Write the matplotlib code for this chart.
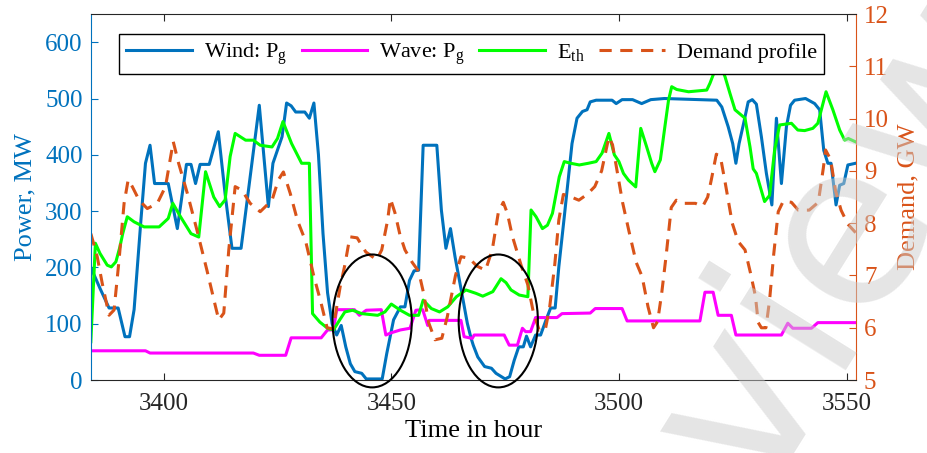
import matplotlib
matplotlib.use("Agg")
import matplotlib.pyplot as plt
from matplotlib.patches import Ellipse

plt.rcParams["font.family"] = ["Liberation Serif", "DejaVu Serif"]
plt.rcParams["mathtext.fontset"] = "custom"
plt.rcParams["mathtext.rm"] = "Liberation Serif"
plt.rcParams["mathtext.it"] = "Liberation Serif:italic"

# Wind: Pg (MW)
wind_h = [3384, 3386, 3388, 3390, 3391.5, 3392.5, 3393.5, 3395, 3396, 3397, 3398, 3401,
          3403, 3405, 3406, 3407, 3408, 3410, 3412, 3413.5, 3415, 3417, 3421, 3423, 3424,
          3426, 3427, 3428, 3429, 3431, 3432, 3433, 3434, 3435, 3436, 3437, 3438, 3439,
          3440, 3441, 3442, 3443.5, 3444.5, 3448, 3449, 3450.5, 3452, 3453, 3454, 3455,
          3456, 3457, 3460, 3461, 3462, 3463, 3464, 3465.5, 3466.7, 3467.5, 3468, 3469,
          3470.5, 3472, 3473, 3475, 3476, 3477, 3478, 3479, 3479.7, 3480.6, 3481.7, 3482.8,
          3484, 3485, 3486, 3486.8, 3488, 3489.7, 3490.8, 3492, 3493, 3493.7, 3495, 3498.5,
          3499.4, 3500.7, 3503, 3505, 3507, 3510, 3521.5, 3522.6, 3524, 3525, 3525.7,
          3526.4, 3527.4, 3528.4, 3529.3, 3530.2, 3531.3, 3532.4, 3533.6, 3534.6, 3535.7,
          3536.8, 3537.7, 3538.6, 3541, 3543, 3544.1, 3545, 3545.9, 3546.6, 3547.7, 3548.5,
          3549.4, 3550.3, 3552]
wind_p = [200, 163, 128, 128, 77, 77, 125, 284, 385, 417, 349, 349,
          269, 383, 383, 349, 383, 383, 441, 330, 234, 234, 488, 308, 385,
          432, 492, 487, 476, 476, 465, 492, 400, 260, 155, 100, 80, 97,
          59, 29, 15, 12, 2, 2, 47, 107, 130, 130, 177, 194,
          195, 417, 417, 302, 234, 269, 219, 154, 101, 75, 62, 41,
          24, 21, 12, 2, 6, 35, 59, 59, 78, 59, 80, 80,
          107, 128, 128, 201, 290, 420, 465, 477, 480, 494, 497, 497,
          491, 498, 498, 491, 498, 500, 497, 485, 450, 420, 385,
          420, 456, 494, 498, 490, 432, 367, 311, 465, 349,
          450, 488, 497, 500, 491, 480, 408, 385, 385, 311, 346,
          349, 382, 385]

# Wave: Pg (MW)
wave_h = [3384, 3396, 3397, 3419.7, 3421, 3426.8, 3428, 3434.6, 3436, 3437.3, 3438, 3441.9,
          3443, 3444.5, 3447.8, 3448.8, 3450, 3452, 3454.1, 3455.4, 3456.9, 3458, 3458.3,
          3465.3, 3466, 3467.8, 3468.2, 3474.8, 3475.9, 3477.7, 3478.8, 3479.5, 3480.6,
          3481.7, 3486.4, 3487.5, 3493.7, 3494.8, 3500.7, 3501.8, 3517.8, 3518.9, 3520.7,
          3521.8, 3524.7, 3525.7, 3535.7, 3537.1, 3538.2, 3542.3, 3543.7, 3552]
wave_p = [52, 52, 48, 48, 44, 44, 75, 75, 89, 89, 125, 125,
          115, 124, 125, 80, 84, 89, 92, 124, 125, 97, 106,
          106, 77, 74, 80, 80, 62, 62, 92, 86, 86,
          111, 111, 118, 119, 127, 127, 105, 105, 156, 156,
          115, 115, 80, 80, 101, 92, 92, 102, 102]

# E_th (MW)
eth_h = [3384, 3385, 3386, 3387.6, 3388.5, 3389.5, 3390.4, 3391, 3392, 3393.5, 3395.7, 3399,
         3401, 3402, 3403.7, 3406, 3407.7, 3409.2, 3411, 3412.3, 3413.5, 3414.6, 3415.7,
         3418, 3419.7, 3421.2, 3423.8, 3425, 3426.2, 3428.1, 3430.3, 3432, 3432.7, 3434.3,
         3436, 3437.3, 3438.6, 3439.8, 3441.5, 3443.5, 3447, 3448.6, 3450, 3452, 3454, 3456,
         3457, 3458.8, 3460.6, 3462.4, 3464.3, 3466.4, 3468.6, 3470.1, 3472.3, 3474.1,
         3475.2, 3476.3, 3478.1, 3480, 3480.7, 3481.8, 3483.2, 3484.3, 3485.4, 3486.9, 3488,
         3489.4, 3491.3, 3493.3, 3495, 3496.3, 3497.8, 3499, 3500, 3501, 3502.1, 3503.7,
         3504.8, 3506.1, 3507.2, 3507.9, 3509.1, 3509.6, 3510.1, 3510.9, 3511.6, 3512.7,
         3515.3, 3519.3, 3520, 3521, 3522, 3523.3, 3524.4, 3525.5, 3527.7, 3528.8, 3529.5,
         3530.2, 3532, 3533.1, 3534.2, 3535.3, 3537.9, 3539.3, 3540.8, 3542.6, 3543.7,
         3545.5, 3547, 3548.5, 3549.6, 3550.4, 3552]
eth_p = [68, 243, 225, 204, 201, 210, 237, 260, 290, 281, 272, 272,
         287, 314, 290, 260, 254, 370, 325, 308, 320, 397, 438,
         426, 426, 417, 414, 429, 459, 420, 385, 385, 118, 103,
         92, 89, 106, 121, 124, 118, 115, 121, 135, 124, 115, 115,
         142, 127, 121, 130, 148, 160, 154, 149, 157, 180,
         173, 160, 151, 148, 302, 290, 269, 275, 296, 361, 388,
         385, 382, 385, 388, 403, 438, 400, 388, 367, 355, 343,
         447, 414, 385, 370, 391, 420, 450, 497, 521, 516,
         512, 515, 527, 548, 565, 539, 509, 480, 465, 414, 375,
         367, 317, 328, 408, 453, 456, 444, 443, 447, 456,
         512, 480, 444, 426, 429, 423]

# Demand profile (GW)
dem_h = [3384, 3385.4, 3386.5, 3388, 3389.1, 3390.2, 3391.3, 3392.2, 3393.1, 3394.6, 3396.4,
         3398.6, 3400.4, 3402.1, 3403.3, 3405.2, 3407.3, 3409.5, 3411.4, 3412.1, 3413.2,
         3414.3, 3415.7, 3417.2, 3419, 3421.2, 3423.8, 3425.2, 3426.3, 3427.8, 3429.4,
         3431.2, 3433, 3434.5, 3435.9, 3437.2, 3438.8, 3439.8, 3440.9, 3442.5, 3444.4,
         3446.8, 3447.9, 3449.2, 3449.8, 3450.8, 3451.9, 3453, 3454.6, 3456, 3457.1, 3458.2,
         3459.6, 3461.1, 3462.3, 3464.1, 3465.3, 3467.1, 3468.8, 3470.7, 3472.2, 3473.5,
         3474.6, 3475.5, 3476.6, 3478.5, 3480, 3481.2, 3482.5, 3483.8, 3484.8, 3485.9,
         3486.8, 3487.8, 3489, 3491.2, 3493, 3494.7, 3496.2, 3497.8, 3498.6, 3499.8, 3500.8,
         3502.2, 3503.8, 3505.1, 3506.4, 3507.6, 3508.5, 3509.4, 3510.4, 3511.5, 3512.6,
         3514, 3516.8, 3518.4, 3519.5, 3520.3, 3521.4, 3522.3, 3523.4, 3524.9, 3526.2,
         3527.7, 3528.9, 3530, 3530.6, 3531.3, 3532.3, 3533.1, 3534, 3535, 3536.1, 3537.9,
         3539.4, 3541.8, 3543.8, 3544.9, 3545.4, 3546.5, 3547.6, 3548.8, 3550.3, 3552]
dem_gw = [7.80, 7.36, 6.85, 6.24, 6.34, 7.30, 8.38, 8.83, 8.70, 8.44, 8.28,
          8.38, 8.70, 9.56, 9.14, 8.57, 7.87, 7.10, 6.40, 6.15, 6.28,
          7.49, 8.70, 8.63, 8.38, 8.22, 8.44, 8.83, 8.98, 8.57, 8.05,
          7.65, 6.98, 6.50, 6.00, 5.98, 6.80, 7.20, 7.74, 7.72, 7.45,
          7.30, 7.49, 8.06, 8.47, 8.20, 7.78, 7.49, 7.25, 7.08, 6.66, 6.10,
          5.77, 5.80, 6.21, 7.00, 7.36, 7.33, 7.18, 7.10, 7.50, 8.20,
          8.40, 8.19, 7.75, 7.20, 6.82, 6.30, 5.95, 5.95, 6.40, 7.20,
          8.06, 8.55, 8.52, 8.44, 8.55, 8.70, 9.00, 9.65, 9.50, 8.90, 8.40,
          7.85, 7.25, 6.98, 6.40, 6.00, 6.12, 6.66, 7.40, 8.30, 8.44,
          8.38, 8.38, 8.32, 8.50, 8.83, 9.32, 9.27, 8.75, 8.00, 7.65,
          7.49, 7.05, 6.60, 6.10, 6.00, 6.00, 6.53, 7.40, 8.22, 8.42, 8.40,
          8.25, 8.25, 8.40, 9.05, 9.40, 9.22, 8.62, 8.25, 7.98, 7.82]

blue = "#0072BD"
orange = "#D95319"

fig = plt.figure(figsize=(9.27, 4.53), dpi=100)
ax1 = fig.add_axes([0.098, 0.161, 0.825, 0.808])
ax2 = ax1.twinx()

l1, = ax1.plot(wind_h, wind_p, color=blue, lw=2.2, label="Wind: P$_{\\rm g}$")
l2, = ax1.plot(wave_h, wave_p, color="#FF00FF", lw=2.2, label="Wave: P$_{\\rm g}$")
l3, = ax1.plot(eth_h, eth_p, color="#00FF00", lw=2.2, label="E$_{\\rm th}$")
l4, = ax2.plot(dem_h, dem_gw, color=orange, lw=2.2, dashes=(4, 2.8), label="Demand profile")

ax1.set_xlim(3384, 3552)
ax1.set_ylim(0, 650)
ax2.set_ylim(5, 12)
ax1.set_xticks([3400, 3450, 3500, 3550])
ax1.set_yticks(range(0, 700, 100))
ax2.set_yticks(range(5, 13))

# circled regions
for cx in [3445.8, 3473.5]:
    ax2.add_patch(Ellipse((cx, 105), 17.4, 236, transform=ax1.transData, fill=False,
                          edgecolor="black", lw=1.5, clip_on=False, zorder=5))

ax1.set_xlabel("Time in hour", fontsize=19, labelpad=4)
ax1.set_ylabel("Power, MW", fontsize=19, color=blue, labelpad=6)
ax2.set_ylabel("Demand, GW", fontsize=19, color=orange, labelpad=6)

ax1.tick_params(axis="x", direction="in", length=5, top=True, labelsize=18, pad=9,
                colors="#262626")
ax1.tick_params(axis="y", direction="in", length=5, labelsize=18, colors=blue, pad=6)
ax2.tick_params(axis="y", direction="in", length=5, labelsize=18, colors=orange, pad=6)
ax2.spines["left"].set_color(blue)
ax2.spines["right"].set_color(orange)
ax2.spines["top"].set_color("#262626")
ax2.spines["bottom"].set_color("#262626")
for s in ax1.spines.values():
    s.set_visible(False)

leg = ax2.legend(handles=[l1, l2, l3, l4], loc="upper center", ncol=4, fontsize=16,
                 bbox_to_anchor=(0.509, 0.925), bbox_transform=fig.transFigure,
                 borderaxespad=0, frameon=True, fancybox=False, edgecolor="black",
                 framealpha=1, handlelength=2.95, handletextpad=0.55, columnspacing=0.65,
                 borderpad=0.32)
leg.get_frame().set_linewidth(1.0)
leg.set_zorder(10)

# watermark
fig.text(0.84, 0.28, "review", fontsize=165, family="DejaVu Sans", color="#cccccc",
         alpha=0.5, rotation=58, ha="center", va="center", zorder=20)

fig.savefig("out.png", dpi=100)
